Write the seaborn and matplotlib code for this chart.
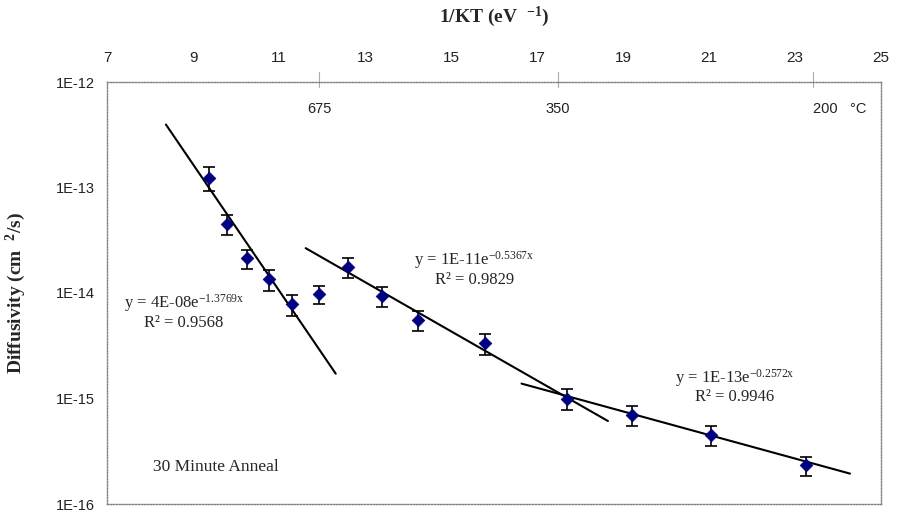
import matplotlib
matplotlib.use('Agg')
import numpy as np
import pandas as pd
import matplotlib.pyplot as plt
import seaborn as sns
from matplotlib.ticker import NullLocator

# data
inv_kt = [9.37, 9.78, 10.25, 10.77, 11.30, 11.93, 12.60, 13.39, 14.24, 15.79, 17.69, 19.22, 21.04, 23.25]
diffusivity = [1.24e-13, 4.51e-14, 2.13e-14, 1.35e-14, 7.8e-15, 9.8e-15, 1.77e-14,
               9.4e-15, 5.55e-15, 3.33e-15, 1.0e-15, 6.98e-16, 4.51e-16, 2.33e-16]
rel_err = [0.25, 0.22, 0.2, 0.22, 0.22, 0.2, 0.22, 0.22, 0.22, 0.22, 0.22, 0.22, 0.22, 0.21]

# exponential fits D = A * exp(-b * x)
fit_prefactor = [4e-8, 1.36e-11, 1e-13]
fit_exponent = [1.3769, 0.5367, 0.2572]
fit_start = [8.37, 11.62, 16.64]
fit_end = [12.32, 18.65, 24.28]
fit_eq = [r'y = 4E-08e$^{\mathrm{-1.3769x}}$',
          r'y = 1E-11e$^{\mathrm{-0.5367x}}$',
          r'y = 1E-13e$^{\mathrm{-0.2572x}}$']
fit_r2 = ['R² = 0.9568', 'R² = 0.9829', 'R² = 0.9946']
eq_x = [8.79, 15.55, 21.6]
eq_y = [8.0e-15, 2.04e-14, 1.55e-15]
r2_y = [5.15e-15, 1.32e-14, 1.03e-15]

x_ticks = [7, 9, 11, 13, 15, 17, 19, 21, 23, 25]
y_ticks = [1e-16, 1e-15, 1e-14, 1e-13, 1e-12]
y_tick_labels = ['1E-16', '1E-15', '1E-14', '1E-13', '1E-12']

temp_x = [11.93, 17.49, 23.42]
temp_labels = ['675', '350', '200   °C']
temp_ha = ['center', 'center', 'left']

sns.set_theme(style='white')
plt.rcParams['font.family'] = ['Liberation Sans', 'DejaVu Sans']
plt.rcParams['mathtext.fontset'] = 'custom'
plt.rcParams['mathtext.rm'] = 'Liberation Serif'
plt.rcParams['mathtext.it'] = 'Liberation Serif:italic'
plt.rcParams['mathtext.bf'] = 'Liberation Serif:bold'

fig = plt.figure(figsize=(8.97, 5.17), dpi=100)
ax = fig.add_axes([107 / 897, 1 - 504 / 517, 774 / 897, 422 / 517])

df = pd.DataFrame({'x': inv_kt, 'D': diffusivity})
df['err'] = df['D'] * np.array(rel_err)

# fitted lines
for a, b, x0, x1 in zip(fit_prefactor, fit_exponent, fit_start, fit_end):
    xs = np.linspace(x0, x1, 50)
    sns.lineplot(x=xs, y=a * np.exp(-b * xs), ax=ax, color='black', linewidth=1.5, zorder=2)

ax.errorbar(df['x'], df['D'], yerr=df['err'], fmt='none', ecolor='black',
            elinewidth=1.2, capsize=4.5, capthick=1.2, zorder=3)
sns.scatterplot(data=df, x='x', y='D', ax=ax, marker='D', s=42, color='#000080',
                edgecolor='#000080', linewidth=0.5, zorder=4)

ax.set_yscale('log')
ax.set_xlim(7, 25)
ax.set_ylim(1e-16, 1e-12)
ax.xaxis.tick_top()
ax.set_xticks(x_ticks)
ax.set_xticklabels([str(t) for t in x_ticks])
ax.set_yticks(y_ticks)
ax.set_yticklabels(y_tick_labels)
ax.yaxis.set_minor_locator(NullLocator())
ax.tick_params(axis='x', length=0, pad=12, labelsize=11, labelcolor='#222222')
ax.tick_params(axis='y', length=0, pad=9, labelsize=10.5, labelcolor='#222222')
ax.set_xlabel('')
ax.set_ylabel('')

for sp in ax.spines.values():
    sp.set_linestyle((0, (1, 1.2)))
    sp.set_color('#808080')
    sp.set_linewidth(1.0)

# temperature markers along the top
for tx, lab, ha in zip(temp_x, temp_labels, temp_ha):
    ax.axvline(tx, ymin=0.988, ymax=1.024, color='#aaaaaa', linewidth=0.8, clip_on=False)
    ax.text(tx, 0.936, lab, transform=ax.get_xaxis_transform(), ha=ha, va='center',
            fontsize=10.5, color='#222222')

serif = ['Liberation Serif', 'DejaVu Serif']
for ex, ey, ry, eq, r2 in zip(eq_x, eq_y, r2_y, fit_eq, fit_r2):
    ax.text(ex, ey, eq, ha='center', va='center', fontsize=12, family=serif)
    ax.text(ex, ry, r2, ha='center', va='center', fontsize=12, family=serif)

ax.text(9.53, 2.25e-16, '30 Minute Anneal', ha='center', va='center', fontsize=12.5, family=serif)

fig.text(494 / 897, 1 - 17 / 517, r'1/KT (eV  $^{\mathbf{-1}}$)', ha='center', va='center',
         fontsize=14, fontweight='bold', family=serif)
fig.text(16 / 897, 1 - 293 / 517, r'Diffusivity (cm  $^{\mathbf{2}}$/s)', ha='center', va='center',
         rotation=90, fontsize=14, fontweight='bold', family=serif)

fig.savefig('out.png', dpi=100)
